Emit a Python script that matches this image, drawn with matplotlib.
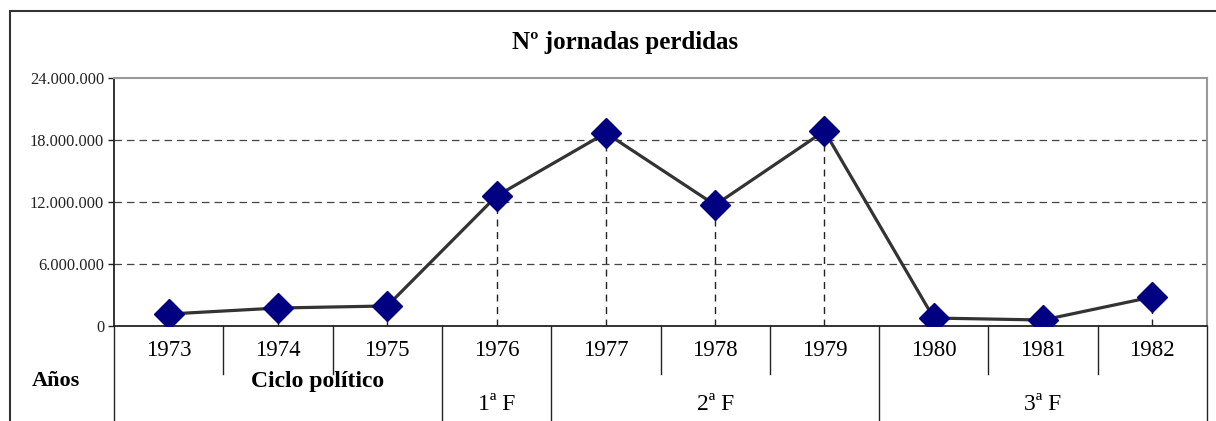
import matplotlib.pyplot as plt
from matplotlib.patches import Rectangle
from matplotlib.ticker import FuncFormatter

plt.rcParams['font.family'] = ['Liberation Serif', 'DejaVu Serif']

# ---------------- datos ----------------
anios = ['1973', '1974', '1975', '1976', '1977', '1978', '1979', '1980', '1981', '1982']
jornadas = [1160000, 1740000, 1940000, 12580000, 18680000, 11710000, 18870000, 770000, 580000, 2810000]

# ciclo politico: (etiqueta, primer indice, ultimo indice)
fases = [('', 0, 2), ('1ª F', 3, 3), ('2ª F', 4, 6), ('3ª F', 7, 9)]
yticks = [0, 6000000, 12000000, 18000000, 24000000]

fig = plt.figure(figsize=(12.16, 4.21), dpi=100)
W, H = 1216, 421

# marco exterior
fig.patches.append(Rectangle((10 / W, -0.1), 1.2, (H - 11) / H + 0.1, transform=fig.transFigure,
                             fill=False, edgecolor='#333333', linewidth=1.5))

ax = fig.add_axes([114 / W, (H - 326) / H, (1207 - 114) / W, (326 - 78) / H])

x = list(range(len(anios)))
ax.plot(x, jornadas, color='#333333', linewidth=2.3, zorder=3)
ax.plot(x, jornadas, linestyle='none', marker='D', markersize=15,
        color='#000080', zorder=4)

# lineas de caida
ax.vlines(x, 0, jornadas, colors='#222222', linestyles=(0, (5, 4)), linewidth=1, zorder=2)

ax.set_xlim(-0.5, len(anios) - 0.5)
ax.set_ylim(0, 24000000)
ax.set_yticks(yticks)
ax.yaxis.set_major_formatter(FuncFormatter(lambda v, p: f'{int(v):,}'.replace(',', '.')))
ax.tick_params(axis='y', labelsize=11.8, length=4, width=1, pad=3, colors='#222222')
ax.set_xticks([])

for yv in yticks[1:-1]:
    ax.axhline(yv, color='#444444', linestyle=(0, (6, 4)), linewidth=0.9, zorder=1)

for side in ['left', 'bottom']:
    ax.spines[side].set_color('#222222')
    ax.spines[side].set_linewidth(1.3)
for side in ['top', 'right']:
    ax.spines[side].set_color('#999999')
    ax.spines[side].set_linewidth(1.5)

fig.text(625 / W, (H - 43) / H, 'Nº jornadas perdidas', ha='center', va='center',
         fontsize=18, fontweight='bold')

# ---------------- tabla de categorias ----------------
tr = ax.get_xaxis_transform()
fila1 = (326 - 374) / 248
fondo = -0.5

for i, a in enumerate(anios):
    ax.text(i, (326 - 351) / 248, a, transform=tr, ha='center', va='center', fontsize=16.5)

limites_fase = set()
for _, i0, i1 in fases:
    limites_fase.add(i0 - 0.5)
    limites_fase.add(i1 + 0.5)

for b in range(len(anios) + 1):
    xb = b - 0.5
    y_fin = fondo if xb in limites_fase else fila1
    ax.plot([xb, xb], [0, y_fin], transform=tr, color='#222222', linewidth=1, clip_on=False)

for etiqueta, i0, i1 in fases:
    if etiqueta:
        ax.text((i0 + i1) / 2, (326 - 405) / 248, etiqueta, transform=tr,
                ha='center', va='center', fontsize=17)

ax.text(1.36, (326 - 381) / 248, 'Ciclo político', transform=tr, ha='center', va='center',
        fontsize=17, fontweight='bold')
fig.text(56 / W, (H - 381) / H, 'Años', ha='center', va='center', fontsize=16, fontweight='bold')

fig.savefig('out.png', dpi=100)
